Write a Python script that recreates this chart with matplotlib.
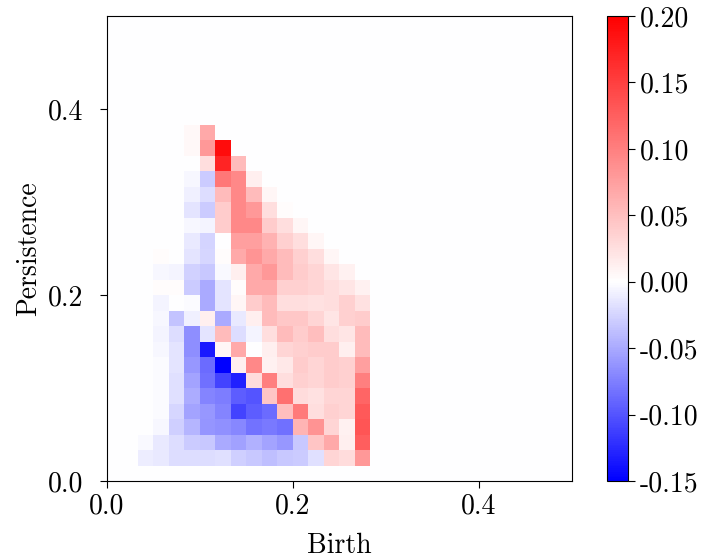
import numpy as np
import matplotlib
matplotlib.use("Agg")
import matplotlib.pyplot as plt
from matplotlib.colors import LinearSegmentedColormap, Normalize

plt.rcParams["font.family"] = ["cmr10", "DejaVu Serif"]
plt.rcParams["axes.unicode_minus"] = False
plt.rcParams["axes.formatter.use_mathtext"] = False

# persistence image grid: 30 x 30 bins over [0, 0.5] (birth) x [0, 0.5] (persistence)
n_bins = 30
lim = 0.5
first_col = 2   # birth bin of the first value in every row
first_row = 1   # persistence bin of the first row

# difference values, one row per persistence bin (bottom to top), birth bins 2..16
diff_rows = [
    [-0.010, -0.013, -0.019, -0.019, -0.019, -0.018, -0.028, -0.032, -0.037, -0.032, -0.031, -0.018, 0.033, 0.027, 0.080],
    [-0.003, -0.012, -0.020, -0.030, -0.032, -0.050, -0.055, -0.046, -0.053, -0.060, -0.032, 0.045, 0.067, 0.012, 0.125],
    [0.0, -0.004, -0.027, -0.043, -0.062, -0.065, -0.070, -0.082, -0.078, -0.084, 0.058, 0.085, 0.033, 0.010, 0.133],
    [0.0, -0.002, -0.023, -0.053, -0.060, -0.072, -0.110, -0.095, -0.087, 0.050, 0.104, 0.025, 0.037, 0.033, 0.130],
    [0.0, -0.002, -0.018, -0.048, -0.072, -0.076, -0.095, -0.100, 0.045, 0.112, 0.027, 0.023, 0.033, 0.033, 0.120],
    [0.0, -0.002, -0.018, -0.053, -0.084, -0.110, -0.130, 0.027, 0.100, 0.025, 0.037, 0.033, 0.040, 0.037, 0.100],
    [0.0, -0.002, -0.015, -0.060, -0.087, -0.150, 0.012, 0.093, 0.010, 0.017, 0.040, 0.033, 0.040, 0.037, 0.075],
    [0.0, -0.004, -0.015, -0.066, -0.134, 0.006, 0.067, 0.0, 0.012, 0.033, 0.037, 0.040, 0.040, 0.012, 0.053],
    [0.0, -0.006, -0.020, -0.066, -0.015, 0.053, -0.020, -0.006, 0.025, 0.053, 0.040, 0.050, 0.025, 0.020, 0.053],
    [0.0, -0.004, -0.035, -0.009, 0.012, -0.050, -0.013, 0.012, 0.053, 0.043, 0.043, 0.033, 0.020, 0.037, 0.040],
    [0.0, -0.006, 0.0, -0.002, -0.050, -0.015, 0.006, 0.040, 0.053, 0.025, 0.025, 0.023, 0.025, 0.037, 0.023],
    [0.0, 0.003, 0.003, -0.030, -0.050, -0.015, 0.003, 0.067, 0.067, 0.037, 0.037, 0.033, 0.025, 0.020, 0.010],
    [0.0, -0.004, -0.006, -0.026, -0.032, -0.003, 0.012, 0.067, 0.080, 0.053, 0.040, 0.033, 0.020, 0.010, 0.0],
    [0.0, 0.002, 0.0, -0.015, -0.023, 0.002, 0.067, 0.083, 0.067, 0.053, 0.037, 0.025, 0.006, 0.0, 0.0],
    [0.0, 0.0, 0.0, -0.012, -0.025, 0.0, 0.075, 0.075, 0.060, 0.037, 0.025, 0.006, 0.0, 0.0, 0.0],
    [0.0, 0.0, 0.0, -0.004, -0.006, 0.040, 0.093, 0.093, 0.040, 0.025, 0.006, 0.0, 0.0, 0.0, 0.0],
    [0.0, 0.0, 0.0, -0.015, -0.030, 0.040, 0.093, 0.080, 0.025, 0.003, 0.0, 0.0, 0.0, 0.0, 0.0],
    [0.0, 0.0, 0.0, -0.009, -0.020, 0.053, 0.093, 0.053, 0.006, 0.0, 0.0, 0.0, 0.0, 0.0, 0.0],
    [0.0, 0.0, 0.0, -0.005, -0.030, 0.107, 0.093, 0.012, 0.0, 0.0, 0.0, 0.0, 0.0, 0.0, 0.0],
    [0.0, 0.0, 0.0, 0.0, 0.025, 0.170, 0.053, 0.0, 0.0, 0.0, 0.0, 0.0, 0.0, 0.0, 0.0],
    [0.0, 0.0, 0.0, 0.005, 0.080, 0.190, 0.0, 0.0, 0.0, 0.0, 0.0, 0.0, 0.0, 0.0, 0.0],
    [0.0, 0.0, 0.0, 0.005, 0.067, 0.0, 0.0, 0.0, 0.0, 0.0, 0.0, 0.0, 0.0, 0.0, 0.0],
]

vmin, vmax = -0.15, 0.20
axis_ticks = [0.0, 0.2, 0.4]
cbar_ticks = [-0.15, -0.10, -0.05, 0.0, 0.05, 0.10, 0.15, 0.20]

img = np.zeros((n_bins, n_bins))
block = np.array(diff_rows)
img[first_row:first_row + block.shape[0], first_col:first_col + block.shape[1]] = block

# blue-white-red with white sitting at zero
cmap = LinearSegmentedColormap.from_list(
    "bwr0", [(0.0, "#0000ff"), (-vmin / (vmax - vmin), "#ffffff"), (1.0, "#ff0000")])

fig = plt.figure(figsize=(7.13, 5.6), dpi=100)
ax = fig.add_axes([107 / 713, 1 - 481 / 560, 465 / 713, 465 / 560])
cax = fig.add_axes([607 / 713, 1 - 481 / 560, 21 / 713, 465 / 560])

im = ax.imshow(img, origin="lower", extent=[0, lim, 0, lim], cmap=cmap,
               norm=Normalize(vmin, vmax), interpolation="nearest")
ax.set_xlim(0, lim); ax.set_ylim(0, lim)
ax.set_xticks(axis_ticks); ax.set_yticks(axis_ticks)
ax.set_xticklabels([f"{t:.1f}" for t in axis_ticks])
ax.set_yticklabels([f"{t:.1f}" for t in axis_ticks])
ax.tick_params(labelsize=20, length=5)
ax.tick_params(axis="y", pad=12)
ax.set_xlabel("Birth", fontsize=20, labelpad=10)
ax.set_ylabel("Persistence", fontsize=20, labelpad=4)

cb = fig.colorbar(im, cax=cax)
cb.set_ticks(cbar_ticks)
cb.set_ticklabels([f"{t:.2f}" for t in cbar_ticks])
cb.ax.tick_params(labelsize=20, length=5)

fig.savefig("out.png", dpi=100)
